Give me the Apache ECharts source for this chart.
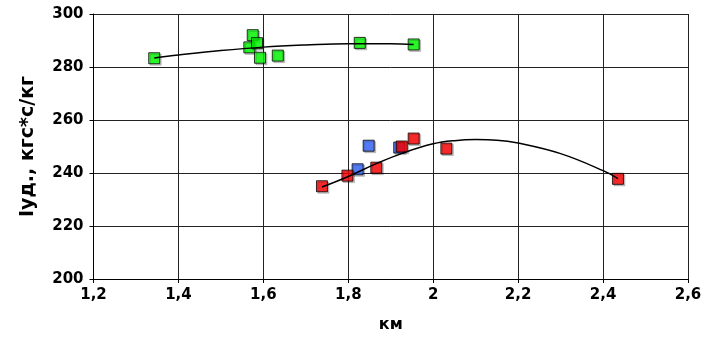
<!DOCTYPE html>
<html>
<head>
<meta charset="utf-8">
<script src="https://cdn.jsdelivr.net/npm/echarts@6/dist/echarts.min.js"></script>
<style>html,body{margin:0;padding:0;background:#fff}#c{width:712px;height:338px}</style>
</head>
<body>
<div id="c"></div>
<script>
const xTicks = [1.2, 1.4, 1.6, 1.8, 2.0, 2.2, 2.4, 2.6];
const yTicks = [200, 220, 240, 260, 280, 300];

const greenPoints = [[1.343,283.3],[1.575,292.0],[1.567,287.4],[1.585,289.0],[1.592,283.5],[1.634,284.3],[1.827,289.1],[1.954,288.5]];
const redPoints = [[1.738,235.0],[1.798,239.0],[1.866,242.0],[1.926,250.0],[1.954,253.0],[2.031,249.2],[2.435,237.8]];
const bluePoints = [[1.848,250.3],[1.822,241.4],[1.920,249.6]];

const greenTrend = [[1.343,283.4],[1.4,284.5],[1.5,286.2],[1.6,287.5],[1.7,288.3],[1.8,288.8],[1.9,288.8],[1.954,288.5]];
const redTrend = [[1.738,234.7],[1.8,238.7],[1.87,243.8],[1.93,247.6],[2.0,251.0],[2.05,252.2],[2.1,252.6],[2.15,252.4],[2.2,251.3],[2.3,247.3],[2.4,240.9],[2.435,237.9]];

const xName = 'км';
const yName = 'Iуд., кгс*с/кг';

const font = 'DejaVu Sans';
const chart = echarts.init(document.getElementById('c'));
function marker(color) {
  return { color: color, borderColor: '#000', borderWidth: 1,
           shadowColor: 'rgba(0,0,0,0.25)', shadowOffsetX: 1.5, shadowOffsetY: 1.5, shadowBlur: 0 };
}
chart.setOption({
  animation: false,
  grid: { left: 93.5, right: 24, top: 14, bottom: 54 },
  xAxis: {
    type: 'value', min: xTicks[0], max: xTicks[xTicks.length-1], interval: 0.2,
    name: xName, nameLocation: 'middle', nameGap: 38,
    nameTextStyle: { fontFamily: font, fontWeight: 'bold', fontSize: 16, color: '#000' },
    axisLine: { show: true, lineStyle: { color: '#000', width: 1 } },
    axisTick: { show: true, length: 4, lineStyle: { color: '#000' } },
    axisLabel: { fontFamily: font, fontWeight: 'bold', fontSize: 15, color: '#000', margin: 9,
      formatter: v => (Math.round(v*10)/10).toString().replace('.', ',') },
    splitLine: { show: true, lineStyle: { color: '#222', width: 1 } }
  },
  yAxis: {
    type: 'value', min: yTicks[0], max: yTicks[yTicks.length-1], interval: 20,
    name: yName, nameLocation: 'middle', nameGap: 56, nameRotate: 90,
    nameTextStyle: { fontFamily: font, fontWeight: 'bold', fontSize: 19, color: '#000' },
    axisLine: { show: true, lineStyle: { color: '#000', width: 1 } },
    axisTick: { show: true, length: 4, lineStyle: { color: '#000' } },
    axisLabel: { fontFamily: font, fontWeight: 'bold', fontSize: 15, color: '#000', margin: 10 },
    splitLine: { show: true, lineStyle: { color: '#222', width: 1 } }
  },
  series: [
    { type: 'scatter', data: bluePoints, symbol: 'rect', symbolSize: 11, itemStyle: marker('#3366FF'), z: 2 },
    { type: 'scatter', data: redPoints, symbol: 'rect', symbolSize: 11, itemStyle: marker('#FF0000'), z: 3 },
    { type: 'scatter', data: greenPoints, symbol: 'rect', symbolSize: 11, itemStyle: marker('#00FF00'), z: 3 },
    { type: 'line', data: greenTrend, smooth: 0.4, showSymbol: false, symbol: 'none', lineStyle: { color: '#000', width: 1.5 }, z: 5 },
    { type: 'line', data: redTrend, smooth: 0.4, showSymbol: false, symbol: 'none', lineStyle: { color: '#000', width: 1.5 }, z: 5 }
  ]
});
</script>
</body>
</html>
